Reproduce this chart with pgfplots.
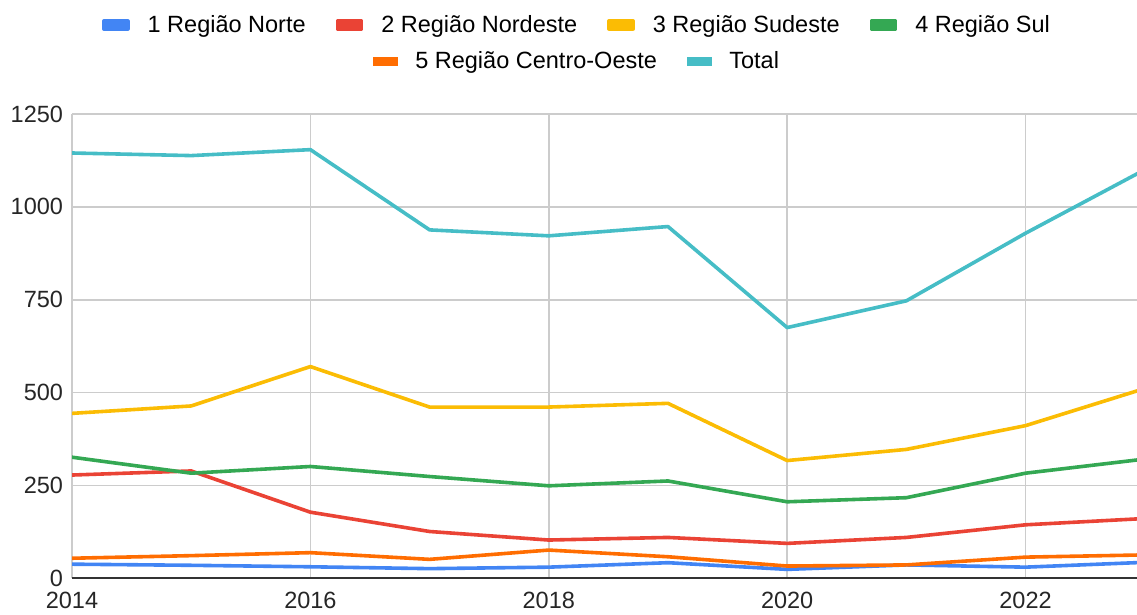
\documentclass[border=0pt]{standalone}
\usepackage{pgfplots}
\pgfplotsset{compat=1.18}
\usepackage{fontspec}
\setmainfont{Liberation Sans}
\definecolor{cNorte}{HTML}{4285F4}
\definecolor{cNordeste}{HTML}{EA4335}
\definecolor{cSudeste}{HTML}{FBBC04}
\definecolor{cSul}{HTML}{34A853}
\definecolor{cCO}{HTML}{FF6D01}
\definecolor{cTotal}{HTML}{46BDC6}
\definecolor{cGrid}{HTML}{CCCCCC}
\definecolor{cAxis}{HTML}{333333}
\begin{document}
\begin{tikzpicture}
\useasboundingbox (0,0) rectangle (1137bp,615bp);
\pgfplotsset{
  mylegend/.style={
    legend style={draw=none, fill=none, font=\fontsize{23.5bp}{28bp}\selectfont,
      inner sep=0pt, outer sep=0pt,
      nodes={inner xsep=0pt, inner ysep=2bp, anchor=west},
      /tikz/every odd column/.append style={column sep=18bp},
      /tikz/every even column/.append style={column sep=30bp}},
    legend image code/.code={\fill[##1] (0bp,-3.9bp) rectangle (24bp,3.9bp);},
  }
}
\begin{axis}[
  at={(72bp,36.7bp)}, anchor=south west,
  scale only axis, width=1065bp, height=464.3bp,
  xmin=2014, xmax=2022.935, ymin=0, ymax=1250,
  clip=true,
  xtick={2014,2016,2018,2020,2022},
  ytick={0,250,500,750,1000,1250},
  grid=major, major grid style={cGrid, line width=1.6bp},
  major tick length=0pt,
  axis lines*=left,
  y axis line style={draw=none},
  x axis line style={cAxis, line width=1.6bp},
  tick label style={font=\fontsize{23.5bp}{28bp}\selectfont, text=black!85},
  /pgf/number format/assume math mode=true,
  /pgf/number format/1000 sep={},
  xticklabel style={yshift=-10.5bp},
  yticklabel style={xshift=-5.5bp},
  mylegend,
  legend columns=4,
  legend style={at={(0.4732,1.1917)}, anchor=center},
  every axis plot/.append style={line width=3.6bp, mark=none, line join=round},
]
\addplot[color=cNorte] coordinates {(2014,38) (2015,35) (2016,31) (2017,26) (2018,30) (2019,42) (2020,24) (2021,36) (2022,30) (2023,43)};
\addlegendentry{1 Região Norte}
\addplot[color=cNordeste] coordinates {(2014,278) (2015,289) (2016,178) (2017,126) (2018,103) (2019,110) (2020,94) (2021,110) (2022,144) (2023,161)};
\addlegendentry{2 Região Nordeste}
\addplot[color=cSudeste] coordinates {(2014,444) (2015,464) (2016,570) (2017,461) (2018,461) (2019,471) (2020,317) (2021,347) (2022,411) (2023,511)};
\addlegendentry{3 Região Sudeste}
\addplot[color=cSul] coordinates {(2014,326) (2015,283) (2016,301) (2017,274) (2018,249) (2019,262) (2020,206) (2021,217) (2022,283) (2023,321)};
\addlegendentry{4 Região Sul}
\addplot[color=cCO, forget plot] coordinates {(2014,54) (2015,61) (2016,69) (2017,51) (2018,76) (2019,58) (2020,33) (2021,36) (2022,57) (2023,63)};
\addplot[color=cTotal, forget plot] coordinates {(2014,1145) (2015,1138) (2016,1154) (2017,938) (2018,922) (2019,947) (2020,675) (2021,747) (2022,929) (2023,1100)};
\end{axis}
\begin{axis}[
  at={(72bp,36.7bp)}, anchor=south west,
  scale only axis, width=1065bp, height=464.3bp,
  xmin=0, xmax=1, ymin=0, ymax=1, hide axis,
  mylegend,
  legend columns=2,
  legend style={at={(0.4732,1.1141)}, anchor=center},
]
\addlegendimage{color=cCO}
\addlegendentry{5 Região Centro-Oeste}
\addlegendimage{color=cTotal}
\addlegendentry{Total}
\end{axis}
\end{tikzpicture}
\end{document}
